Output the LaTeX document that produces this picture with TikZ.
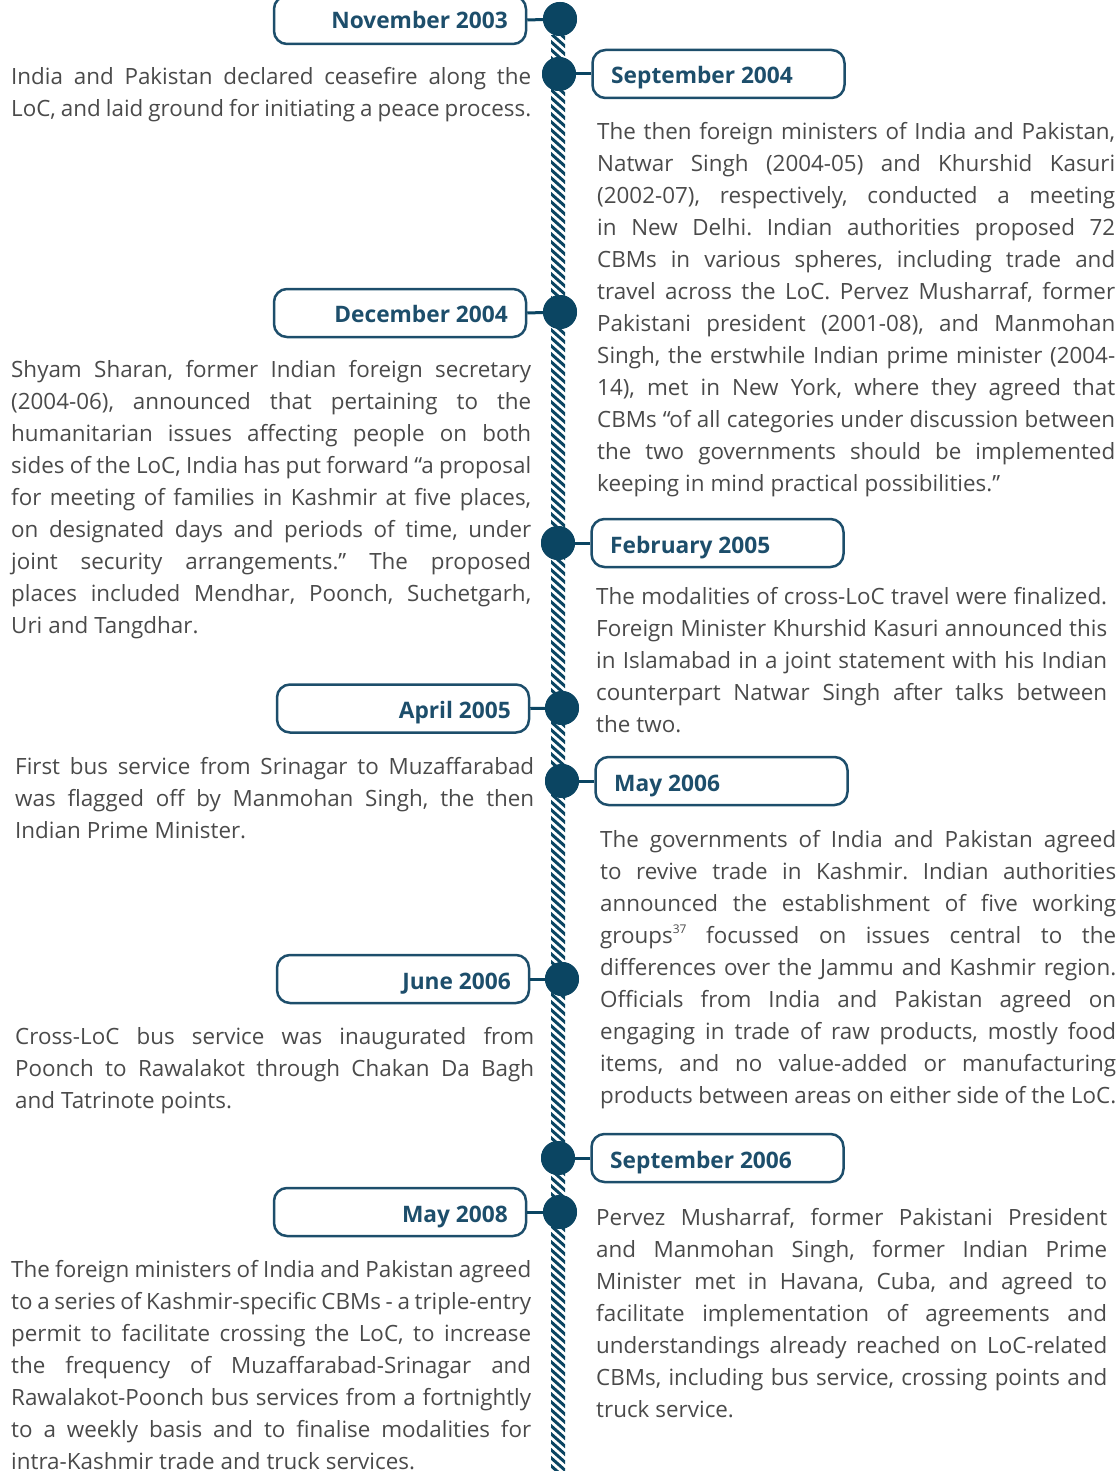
\documentclass[tikz,border=0pt]{standalone}
\usepackage{fontspec}
\setmainfont{Open Sans}
\definecolor{navy}{HTML}{0B4562}
\definecolor{tblue}{HTML}{1D4E6B}
\definecolor{bodytxt}{HTML}{4A4A4A}
\newcommand\jl[1]{\hbox to\hsize{\frenchspacing\spaceskip=0.26em plus 1em minus 0.14em\relax #1}}
\newcommand\lastl[1]{\hbox to\hsize{\frenchspacing\spaceskip=0.27em plus 0.05em minus 0.15em\relax #1\hfil}}
\newcommand\sups[1]{\raisebox{0.42em}{\fontsize{12}{12}\selectfont #1}}
\tikzset{
 datebox/.style={draw=tblue, line width=2.5pt, rounded corners=13pt, minimum width=252pt, minimum height=48pt, inner sep=0},
 dot/.style={circle, fill=navy, minimum size=34pt, inner sep=0},
 link/.style={draw=navy, line width=3pt},
 datel/.style={font=\fontsize{22.7}{26}\selectfont\bfseries, text=tblue, inner sep=0, anchor=base east},
 dater/.style={font=\fontsize{22.7}{26}\selectfont\bfseries, text=tblue, inner sep=0, anchor=base west},
 para/.style={inner sep=0, anchor=base west, font=\fontsize{22.4}{32}\selectfont, text=bodytxt}
}
\begin{document}
\begin{tikzpicture}[x=1pt,y=-1pt]
\useasboundingbox (0,0) rectangle (1119,1471);
% hatched spine
\begin{scope}
\clip (551,36) rectangle (565,1471);
\foreach \y in {16,24,...,1480} \draw[navy, line width=3pt] (549,\y) -- (567,\y+16);
\end{scope}
% boxes
\node[datebox] (b1) at (400,20) {};
\node[datebox] (b2) at (718.5,74) {};
\node[datebox] (b3) at (400,313) {};
\node[datebox] (b4) at (717.5,543) {};
\node[datebox] (b5) at (403,708.5) {};
\node[datebox] (b6) at (721.5,781) {};
\node[datebox] (b7) at (403,979) {};
\node[datebox] (b8) at (717.5,1158) {};
\node[datebox] (b9) at (400,1212) {};
% dots
\node[dot] (c1) at (560,19) {};
\node[dot] (c2) at (559,74) {};
\node[dot] (c3) at (560,312) {};
\node[dot] (c4) at (558,543) {};
\node[dot] (c5) at (562,708) {};
\node[dot] (c6) at (562,781) {};
\node[dot] (c7) at (562,979) {};
\node[dot] (c8) at (558,1158) {};
\node[dot] (c9) at (560,1212) {};
% links
\draw[link] (b1.east) -- (c1);
\draw[link] (b2.west) -- (c2);
\draw[link] (b3.east) -- (c3);
\draw[link] (b4.west) -- (c4);
\draw[link] (b5.east) -- (c5);
\draw[link] (b6.west) -- (c6);
\draw[link] (b7.east) -- (c7);
\draw[link] (b8.west) -- (c8);
\draw[link] (b9.east) -- (c9);
\foreach \i in {1,...,9} \node[dot] at (c\i) {};
% dates
\node[datel] (d1) at (508,29) {November 2003};
\node[dater] (d2) at (611,84) {September 2004};
\node[datel] (d3) at (508,322) {December 2004};
\node[dater] (d4) at (610,553) {February 2005};
\node[datel] (d5) at (511,718) {April 2005};
\node[dater] (d6) at (614,791) {May 2006};
\node[datel] (d7) at (511,989) {June 2006};
\node[dater] (d8) at (610,1168) {September 2006};
\node[datel] (d9) at (508,1222) {May 2008};
% paragraphs
\node[para] (p1) at (11,85) {\vtop{\hsize=520pt
\jl{India and Pakistan declared ceasefire along the}
\lastl{LoC, and laid ground for initiating a peace process.}}};
\node[para] (p2) at (597,140) {\vtop{\hsize=518pt
\jl{The then foreign ministers of India and Pakistan,}
\jl{Natwar Singh (2004-05) and Khurshid Kasuri}
\jl{(2002-07), respectively, conducted a meeting}
\jl{in New Delhi. Indian authorities proposed 72}
\jl{CBMs in various spheres, including trade and}
\jl{travel across the LoC. Pervez Musharraf, former}
\jl{Pakistani president (2001-08), and Manmohan}
\jl{Singh, the erstwhile Indian prime minister (2004-}
\jl{14), met in New York, where they agreed that}
\jl{CBMs “of all categories under discussion between}
\jl{the two governments should be implemented}
\lastl{keeping in mind practical possibilities.”}}};
\node[para] (p3) at (11,377) {\vtop{\hsize=520pt
\jl{Shyam Sharan, former Indian foreign secretary}
\jl{(2004-06), announced that pertaining to the}
\jl{humanitarian issues affecting people on both}
\jl{sides of the LoC, India has put forward “a proposal}
\jl{for meeting of families in Kashmir at five places,}
\jl{on designated days and periods of time, under}
\jl{joint security arrangements.” The proposed}
\jl{places included Mendhar, Poonch, Suchetgarh,}
\lastl{Uri and Tangdhar.}}};
\node[para] (p4) at (596,604) {\vtop{\hsize=511pt
\jl{The modalities of cross-LoC travel were finalized.}
\jl{Foreign Minister Khurshid Kasuri announced this}
\jl{in Islamabad in a joint statement with his Indian}
\jl{counterpart Natwar Singh after talks between}
\lastl{the two.}}};
\node[para] (p5) at (15,774) {\vtop{\hsize=519pt
\jl{First bus service from Srinagar to Muzaffarabad}
\jl{was flagged off by Manmohan Singh, the then}
\lastl{Indian Prime Minister.}}};
\node[para] (p6) at (600,847) {\vtop{\hsize=516pt
\jl{The governments of India and Pakistan agreed}
\jl{to revive trade in Kashmir. Indian authorities}
\jl{announced the establishment of five working}
\jl{groups\sups{37} focussed on issues central to the}
\jl{differences over the Jammu and Kashmir region.}
\jl{Officials from India and Pakistan agreed on}
\jl{engaging in trade of raw products, mostly food}
\jl{items, and no value-added or manufacturing}
\lastl{products between areas on either side of the LoC.}}};
\node[para] (p7) at (15,1044) {\vtop{\hsize=519pt
\jl{Cross-LoC bus service was inaugurated from}
\jl{Poonch to Rawalakot through Chakan Da Bagh}
\lastl{and Tatrinote points.}}};
\node[para] (p8) at (596,1225) {\vtop{\hsize=511pt
\jl{Pervez Musharraf, former Pakistani President}
\jl{and Manmohan Singh, former Indian Prime}
\jl{Minister met in Havana, Cuba, and agreed to}
\jl{facilitate implementation of agreements and}
\jl{understandings already reached on LoC-related}
\jl{CBMs, including bus service, crossing points and}
\lastl{truck service.}}};
\node[para] (p9) at (11,1277) {\vtop{\hsize=520pt
\jl{The foreign ministers of India and Pakistan agreed}
\jl{to a series of Kashmir-specific CBMs - a triple-entry}
\jl{permit to facilitate crossing the LoC, to increase}
\jl{the frequency of Muzaffarabad-Srinagar and}
\jl{Rawalakot-Poonch bus services from a fortnightly}
\jl{to a weekly basis and to finalise modalities for}
\lastl{intra-Kashmir trade and truck services.}}};
\end{tikzpicture}
\end{document}
